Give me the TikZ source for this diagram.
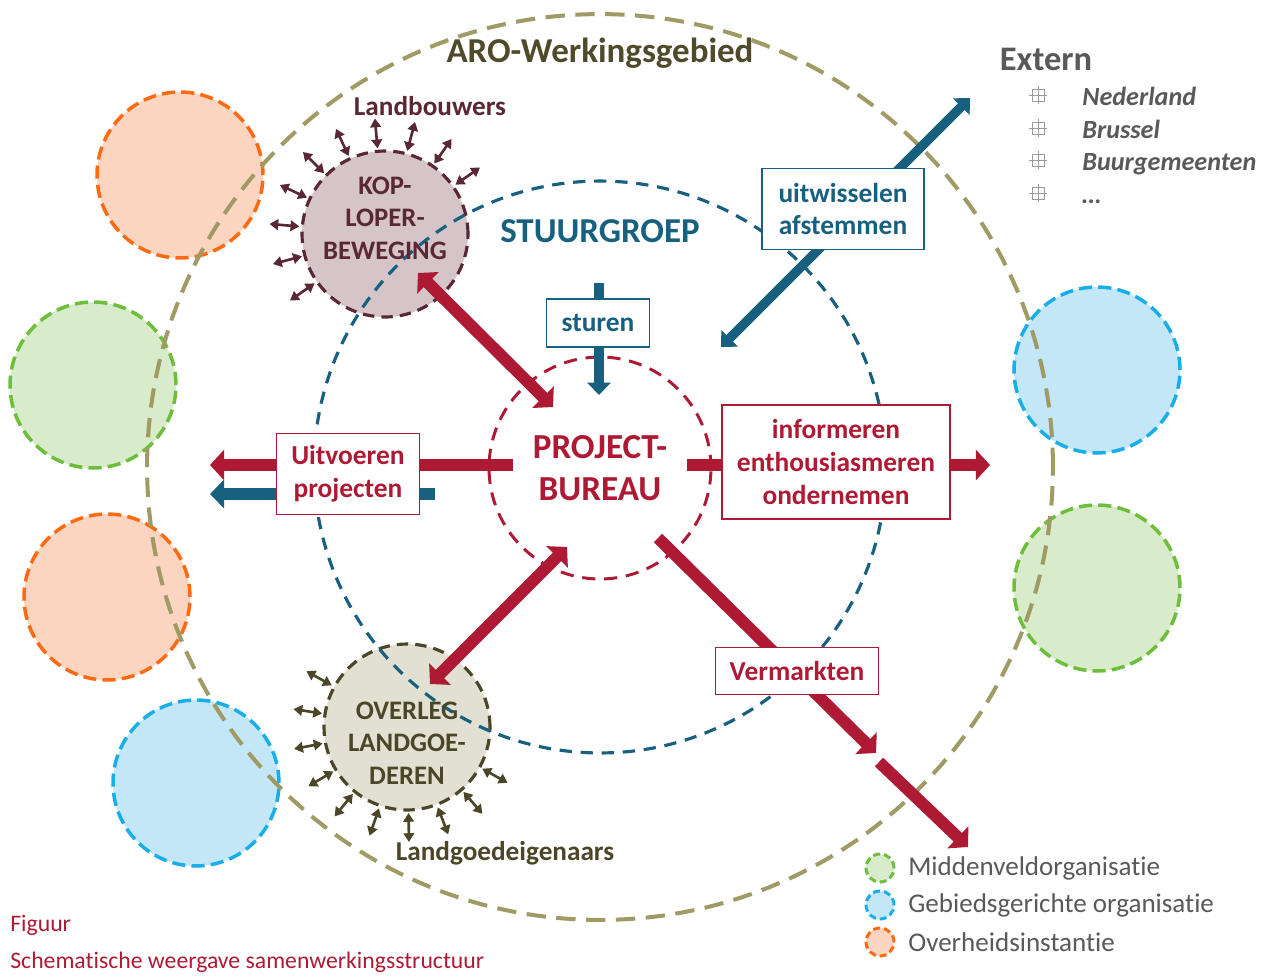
\documentclass[tikz,border=0pt]{standalone}
\usepackage{fontspec}
\setmainfont{Carlito}[RawFeature={-liga;-clig;-calt}]
\usetikzlibrary{positioning, calc, arrows.meta}
\usepackage{xcolor}
\definecolor{AroOlive}{HTML}{A09A64}
\definecolor{AroText}{HTML}{4E4A2A}
\definecolor{StuurTeal}{HTML}{17607F}
\definecolor{BureauRed}{HTML}{AE1A34}
\definecolor{KopFill}{HTML}{D5C4C8}
\definecolor{KopLine}{HTML}{5A2834}
\definecolor{OverlegFill}{HTML}{E2DFD3}
\definecolor{OverlegLine}{HTML}{4B4628}
\definecolor{GovOrange}{HTML}{FF6A13}
\definecolor{GovFill}{HTML}{FCD5C1}
\definecolor{MidGreen}{HTML}{6DBE3A}
\definecolor{MidFill}{HTML}{D8EBCA}
\definecolor{AreaBlue}{HTML}{19AEEA}
\definecolor{AreaFill}{HTML}{C4E7F8}
\definecolor{LegendGray}{HTML}{595959}
\newcommand{\fsz}[2]{\fontsize{#1}{#2}\selectfont}

\begin{document}
\begin{tikzpicture}[
  x=0.02cm, y=0.02cm,
  partner/.style={circle, inner sep=0pt, minimum size=3.32cm, line width=2pt,
    dash pattern=on 7.5pt off 3.5pt},
  gov/.style={partner, draw=GovOrange, fill=GovFill},
  mid/.style={partner, draw=MidGreen, fill=MidFill},
  area/.style={partner, draw=AreaBlue, fill=AreaFill},
  group/.style={circle, inner sep=0pt, minimum size=3.32cm, line width=1.8pt,
    dash pattern=on 6.5pt off 4pt},
  grouptext/.style={align=center, font=\fsz{15.2}{18.4}\bfseries},
  ring/.style={circle, inner sep=0pt},
  box/.style={rectangle, draw, fill=white, line width=0.9pt, align=center,
    inner sep=2pt, font=\fsz{15.6}{18.7}\bfseries},
  redbox/.style={box, draw=BureauRed, text=BureauRed},
  tealbox/.style={box, draw=StuurTeal, text=StuurTeal},
  redarr/.style={BureauRed, line width=6.8pt, -{Triangle[length=8pt,width=17pt]}},
  tealarr/.style={StuurTeal, line width=5.4pt, -{Triangle[length=7pt,width=13pt]}},
  ripple/.style={line width=1.5pt,
    {Triangle[length=5pt,width=6pt]}-{Triangle[length=5pt,width=6pt]}},
  keyring/.style={circle, inner sep=0pt, minimum size=0.56cm, line width=1.7pt,
    dash pattern=on 4pt off 2.2pt},
  legend/.style={anchor=west, inner sep=0pt, font=\fsz{15.4}{18}, text=LegendGray},
  extitem/.style={anchor=base west, inner sep=0pt, text=LegendGray,
    font=\fsz{14.9}{18}\bfseries\itshape},
  bulletmark/.style={draw=LegendGray!60, line width=0.5pt},
  caption/.style={anchor=west, inner sep=0pt, text=BureauRed, font=\fsz{13.5}{16}}
]
  \useasboundingbox (0,0) rectangle (1271,-978);

  % partners around the working area
  \node[gov]  (govA)  at (180,-175) {};
  \node[mid]  (midA)  at (93,-385)  {};
  \node[gov]  (govB)  at (107,-597) {};
  \node[area] (areaA) at (196,-783) {};
  \node[area] (areaB) at (1097,-370) {};
  \node[mid]  (midB)  at (1097,-588) {};

  % working area
  \node[ring, draw=AroOlive, line width=2.3pt, dash pattern=on 11pt off 6pt,
    minimum size=18.12cm] (aro) at (600,-467) {};
  \node[font=\fsz{19.9}{24}\bfseries, text=AroText] (arotitle) at (600,-53)
    {ARO-Werkingsgebied};

  % groups
  \node[group, draw=KopLine, fill=KopFill] (kop) at (385,-234) {};
  \node[group, draw=OverlegLine, fill=OverlegFill] (overleg) at (407,-727) {};

  % steering group
  \node[ring, draw=StuurTeal, line width=1.8pt, dash pattern=on 7pt off 5pt,
    minimum size=11.44cm] (stuur) at (600,-467) {};
  \node[font=\fsz{19.9}{24}\bfseries, text=StuurTeal] (stuurtitle)
    at (600,-231) {STUURGROEP};

  \node[grouptext, text=KopLine] (koptext) at (385,-218) {KOP-\\LOPER-\\BEWEGING};
  \node[grouptext, text=OverlegLine] (overlegtext) at (407,-743)
    {OVERLEG\\LANDGOE-\\DEREN};

  \foreach \a in {35,55,...,215}
    \draw[ripple, KopLine] ($(kop)+(\a:86)$) -- ($(kop)+(\a:116)$);
  \foreach \a in {151,171,...,331}
    \draw[ripple, OverlegLine] ($(overleg)+(\a:86)$) -- ($(overleg)+(\a:115)$);

  \node[font=\fsz{15.5}{18}\bfseries, text=KopLine] (landbouwers) at (430,-106)
    {Landbouwers};
  \node[font=\fsz{15.5}{18}\bfseries, text=OverlegLine] (eigenaars) at (505,-853)
    {Landgoedeigenaars};

  % project office
  \node[ring, draw=BureauRed, line width=1.7pt, dash pattern=on 7.5pt off 5pt,
    minimum size=4.44cm, align=center, text=BureauRed,
    font=\fsz{20}{23.8}\bfseries] (bureau) at (600,-468) {PROJECT-\\BUREAU};

  % arrow ends
  \coordinate (kopEnd)     at (418,-273);
  \coordinate (bureauNW)   at (553,-407);
  \coordinate (overlegEnd) at (430,-684);
  \coordinate (bureauSW)   at (567,-547);
  \coordinate (sturenTop)  at (599,-283);
  \coordinate (bureauN)    at (599,-395);
  \coordinate (externEnd)  at (970,-98);
  \coordinate (stuurNE)    at (721,-347);
  \coordinate (bureauW)    at (513,-465);
  \coordinate (leftRed)    at (210,-465);
  \coordinate (tealStart)  at (435,-494);
  \coordinate (leftTeal)   at (210,-494);
  \coordinate (bureauE)    at (687,-465);
  \coordinate (rightRed)   at (990,-465);
  \coordinate (bureauSE)   at (658,-538);
  \coordinate (marketMid)  at (876,-753);
  \coordinate (marketGap)  at (879,-762);
  \coordinate (marketEnd)  at (968,-847);

  \draw[redarr, {Triangle[length=8pt,width=17pt]}-{Triangle[length=8pt,width=17pt]}]
    (kopEnd) -- (bureauNW);
  \draw[redarr, {Triangle[length=8pt,width=17pt]}-{Triangle[length=8pt,width=17pt]}]
    (overlegEnd) -- (bureauSW);
  \draw[redarr] (bureauW) -- (leftRed);
  \draw[tealarr, line width=6.4pt, -{Triangle[length=8pt,width=16pt]}]
    (tealStart) -- (leftTeal);
  \draw[redarr] (bureauE) -- (rightRed);
  \draw[tealarr] (sturenTop) -- (bureauN);
  \draw[tealarr, {Triangle[length=7pt,width=13pt]}-{Triangle[length=7pt,width=13pt]}]
    (stuurNE) -- (externEnd);
  \draw[redarr] (bureauSE) -- (marketMid);
  \draw[redarr] (marketGap) -- (marketEnd);

  % labels on the arrows
  \node[tealbox, minimum width=2.06cm, minimum height=0.96cm] (sturen)
    at (598,-323) {sturen};
  \node[redbox, minimum width=2.86cm, minimum height=1.62cm] (uitvoeren)
    at (348,-474) {Uitvoeren\\projecten};
  \node[redbox, minimum width=4.56cm, minimum height=2.28cm] (informeren)
    at (836,-462) {informeren\\enthousiasmeren\\ondernemen};
  \node[tealbox, minimum width=3.24cm, minimum height=1.62cm] (uitwisselen)
    at (843,-209) {uitwisselen\\afstemmen};
  \node[redbox, minimum width=3.26cm, minimum height=0.94cm] (vermarkten)
    at (797,-671) {Vermarkten};

  % external partners
  \node[font=\fsz{19.6}{24}\bfseries, text=LegendGray] (extern) at (1046,-59) {Extern};
  \foreach \y in {95,128,160,193}
    \draw[bulletmark] (1032,-\y-6) rectangle (1044,-\y+6)
      (1038,-\y-9) -- (1038,-\y+9) (1029,-\y) -- (1047,-\y);
  \node[extitem] (nederland) at (1082,-105) {Nederland};
  \node[extitem] (brussel)   at (1082,-138) {Brussel};
  \node[extitem] (buur)      at (1082,-170) {Buurgemeenten};
  \node[extitem] (andere)    at (1082,-203) {\dots};

  % legend
  \node[keyring, draw=MidGreen, fill=MidFill]  (keyMid)  at (880,-868) {};
  \node[keyring, draw=AreaBlue, fill=AreaFill] (keyArea) at (880,-905) {};
  \node[keyring, draw=GovOrange, fill=GovFill] (keyGov)  at (880,-942) {};
  \node[legend] (txtMid)  at (908,-868) {Middenveldorganisatie};
  \node[legend] (txtArea) at (908,-905) {Gebiedsgerichte organisatie};
  \node[legend] (txtGov)  at (908,-942) {Overheidsinstantie};

  % caption
  \node[caption] (figuur) at (10,-925) {Figuur};
  \node[caption] (schema) at (10,-962) {Schematische weergave samenwerkingsstructuur};
\end{tikzpicture}
\end{document}
